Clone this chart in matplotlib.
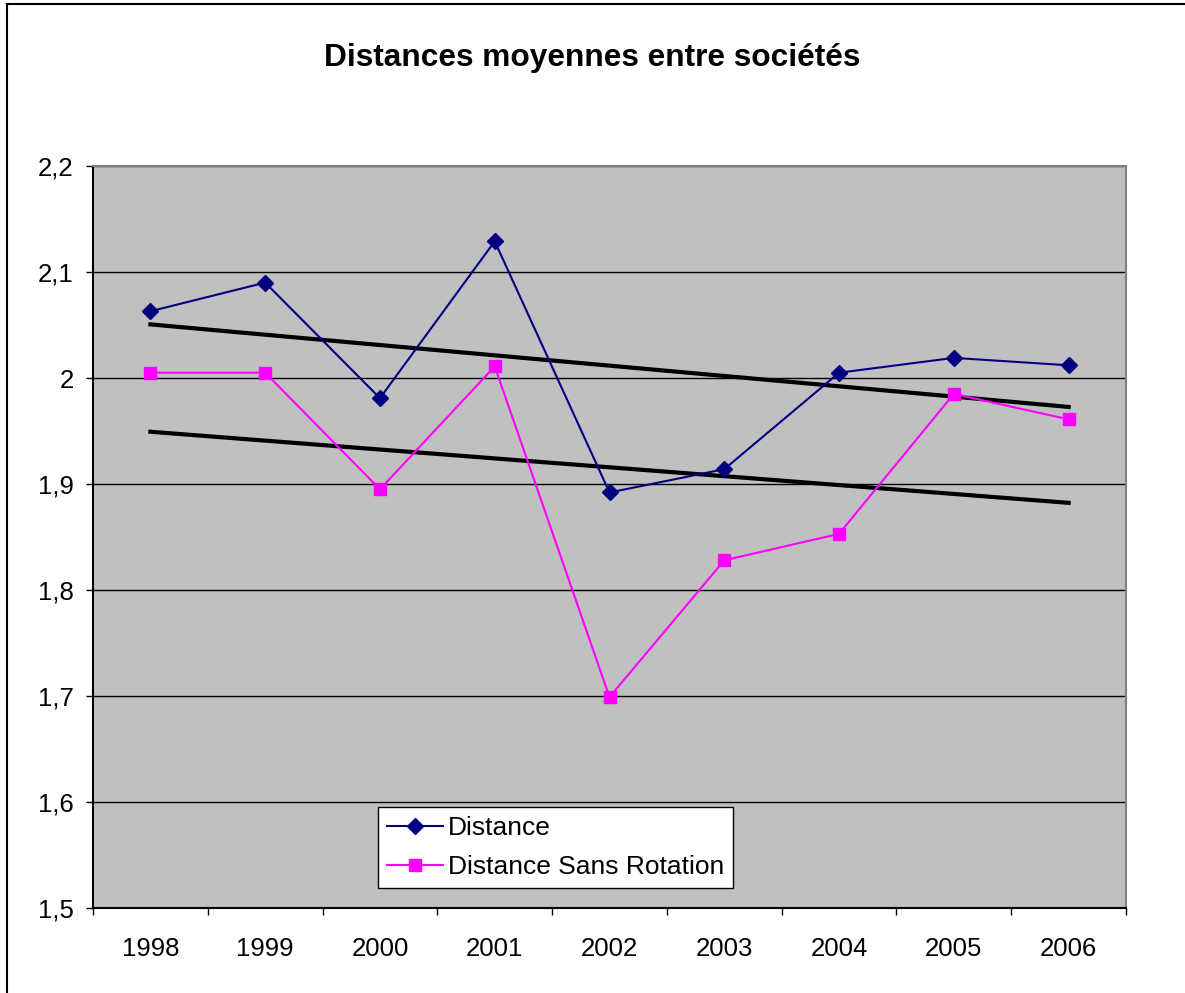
import numpy as np
import matplotlib.pyplot as plt
from matplotlib.lines import Line2D
from matplotlib.ticker import FuncFormatter, FixedLocator

plt.rcParams["font.family"] = ["Liberation Sans", "DejaVu Sans"]

years = ["1998", "1999", "2000", "2001", "2002", "2003", "2004", "2005", "2006"]
distance = [2.063, 2.090, 1.981, 2.129, 1.892, 1.914, 2.005, 2.019, 2.012]
sans_rotation = [2.005, 2.005, 1.895, 2.011, 1.699, 1.828, 1.853, 1.985, 1.961]

x = np.arange(len(years))

fig = plt.figure(figsize=(11.85, 9.93), dpi=100)
ax = fig.add_axes([0.0785, 0.0856, 0.8717, 0.7472])
ax.set_facecolor("#C0C0C0")

# horizontal grid
ax.yaxis.grid(True, color="black", linewidth=1)
ax.set_axisbelow(True)

ax.plot(x, distance, color="#000080", linewidth=1.5, marker="D",
        markersize=8.5, label="Distance", zorder=3)
ax.plot(x, sans_rotation, color="#FF00FF", linewidth=1.5, marker="s",
        markersize=8.5, label="Distance Sans Rotation", zorder=3)

# linear trend lines
for series in (distance, sans_rotation):
    a, b = np.polyfit(x, series, 1)
    ax.plot(x, a * x + b, color="black", linewidth=3, zorder=2)

ax.set_xlim(-0.5, len(years) - 0.5)
ax.set_ylim(1.5, 2.2)
ax.set_yticks(np.arange(1.5, 2.21, 0.1))
ax.yaxis.set_major_formatter(FuncFormatter(lambda v, p: f"{v:.1f}".rstrip("0").rstrip(".").replace(".", ",")))

ax.xaxis.set_major_locator(FixedLocator(np.arange(-0.5, len(years), 1)))
ax.xaxis.set_major_formatter(FuncFormatter(lambda v, p: ""))
ax.xaxis.set_minor_locator(FixedLocator(x))
ax.set_xticklabels(years, minor=True)
ax.tick_params(axis="x", which="minor", length=0, pad=21, labelsize=18.5)
ax.tick_params(axis="x", which="major", length=5, width=1, direction="out")
ax.tick_params(axis="y", length=5, width=1, direction="out", pad=9, labelsize=18.5)

ax.spines["left"].set_color("black")
ax.spines["bottom"].set_color("black")
ax.spines["top"].set_color("#808080")
ax.spines["right"].set_color("#808080")
for s in ax.spines.values():
    s.set_linewidth(1.5)

fig.text(0.5, 0.942, "Distances moyennes entre sociétés", ha="center",
         va="center", fontsize=22.8, fontweight="bold")

leg = ax.legend(loc="lower left", bbox_to_anchor=(0.319, 0.1057),
                bbox_transform=fig.transFigure, borderaxespad=0,
                fancybox=False, edgecolor="black", framealpha=1,
                fontsize=19, handlelength=2.1, handletextpad=0.2,
                labelspacing=0.55, borderpad=0.35)
leg.get_frame().set_linewidth(1)

# chart area border
fig.add_artist(Line2D([7 / 1185, 1.0], [1 - 4 / 993, 1 - 4 / 993],
                      transform=fig.transFigure, color="black", linewidth=1.5))
fig.add_artist(Line2D([7 / 1185, 7 / 1185], [0.0, 1 - 4 / 993],
                      transform=fig.transFigure, color="black", linewidth=1.5))

fig.savefig("out.png", dpi=100)
plt.close()
